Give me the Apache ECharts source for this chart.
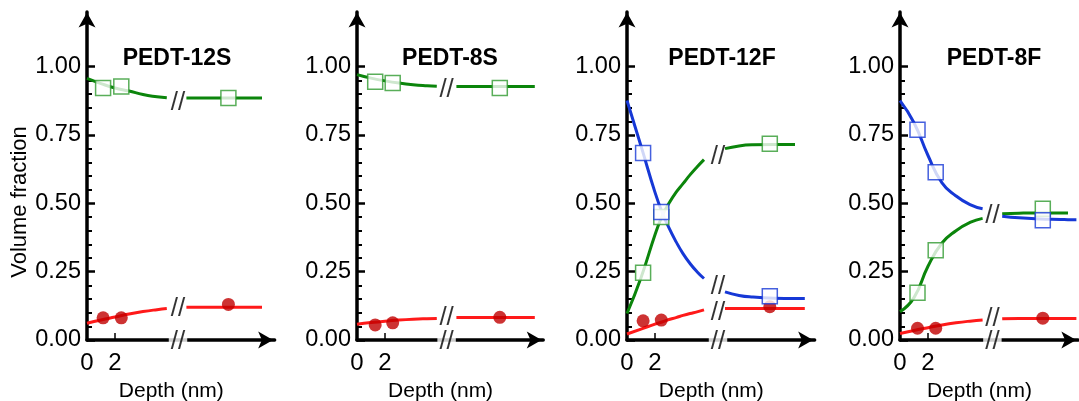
<!DOCTYPE html>
<html>
<head>
<meta charset="utf-8">
<script src="https://cdn.jsdelivr.net/npm/echarts@6.0.0/dist/echarts.min.js"></script>
<style>
  html, body { margin: 0; padding: 0; background: #fff; }
  #chart { width: 1079px; height: 401px; }
</style>
</head>
<body>
<div id="chart"></div>
<script>
// ---- data (depth in nm; the bulk part past the axis break uses the same drawn scale) ----
const titles = ['PEDT-12S', 'PEDT-8S', 'PEDT-12F', 'PEDT-8F'];
const yTicks = [0, 0.25, 0.5, 0.75, 1];
const yMinorTicks = [0.05, 0.1, 0.15, 0.2, 0.3, 0.35, 0.4, 0.45, 0.55, 0.6, 0.65, 0.7, 0.8, 0.85, 0.9, 0.95];
const xTickLabels = [0, 2];
const xMax = [13.4, 13.3, 13.4, 12.7];

// fitted curves, '-' marks the gap at the axis break
const depth12S = [0, 1, 2, 3, 4, 5, 5.7, 6.4, 7.1, 8.5, 10, 11.5, 12.5];
const green12S = [0.957, 0.938, 0.922, 0.911, 0.898, 0.89, 0.886, '-', 0.885, 0.885, 0.885, 0.885, 0.885];
const red12S = [0.061, 0.073, 0.084, 0.095, 0.104, 0.111, 0.115, '-', 0.12, 0.12, 0.12, 0.12, 0.12];

const depth8S = [0, 1, 2, 3, 4, 5, 5.7, 6.4, 7.1, 8.5, 10, 11.5, 12.7];
const green8S = [0.971, 0.958, 0.948, 0.94, 0.934, 0.93, 0.928, '-', 0.927, 0.927, 0.927, 0.927, 0.927];
const red8S = [0.058, 0.064, 0.069, 0.073, 0.076, 0.078, 0.079, '-', 0.082, 0.082, 0.082, 0.082, 0.082];

const depth12F = [0, 1, 2, 2.5, 3, 3.5, 4, 4.5, 5, 5.5, 6.5, 7.0, 8, 9, 10.5, 12.0, 12.7];
const blue12F = [0.876, 0.71, 0.54, 0.468, 0.41, 0.36, 0.316, 0.28, 0.25, 0.225, '-', 0.176, 0.163, 0.157, 0.153, 0.152, 0.152];
const green12F = [0.097, 0.228, 0.385, 0.452, 0.5, 0.54, 0.572, 0.604, 0.633, 0.66, '-', 0.70, 0.71, 0.714, 0.715, 0.715, '-'];
const red12F = [0.022, 0.04, 0.058, 0.066, 0.075, 0.082, 0.09, 0.097, 0.103, 0.11, '-', 0.115, 0.115, 0.115, 0.115, 0.115, 0.115];

const depth8F = [0, 1, 2, 3, 4, 5, 5.9, 6.6, 7.3, 8.5, 10, 11.5, 12.0, 12.6];
const blue8F = [0.876, 0.795, 0.675, 0.575, 0.527, 0.495, 0.48, '-', 0.453, 0.447, 0.443, 0.441, 0.44, 0.44];
const green8F = [0.103, 0.155, 0.27, 0.355, 0.4, 0.43, 0.445, '-', 0.462, 0.464, 0.465, 0.465, 0.465, '-'];
const red8F = [0.024, 0.035, 0.045, 0.055, 0.063, 0.069, 0.073, '-', 0.078, 0.079, 0.079, 0.079, 0.079, 0.079];

// measured points: two near-surface depths and the bulk value
const pointDepths = [[1.15, 2.45, 10.1], [1.3, 2.55, 10.2], [1.15, 2.45, 10.2], [1.25, 2.55, 10.2]];
const greenPoints = [[0.922, 0.927, 0.885], [0.945, 0.94, 0.922], [0.246, 0.45, 0.718], [0.173, 0.328, 0.48]];
const redPoints = [[0.081, 0.081, 0.13], [0.055, 0.063, 0.083], [0.07, 0.073, 0.122], [0.043, 0.043, 0.08]];
const bluePoints = [null, null, [0.684, 0.468, 0.16], [0.769, 0.614, 0.438]];

// "//" break marks
const breakDepths = [6.5, 6.4, 6.5, 6.6];
const breakLevels = [[0.869, 0.113], [0.916, 0.08], [0.669, 0.195, 0.098], [0.453, 0.077]];
const axisBreakLevel = -0.005;

// ---- layout / style ----
const FONT = 'Liberation Sans, Arial, sans-serif';
const GREEN = '#0b850b';
const GREEN_EDGE = '#2f9a2f';
const RED = '#ff1a1a';
const DARKRED = '#c00000';
const BLUE = '#1638d6';
const gridLeft = [87, 357, 627, 900];
const titleCenter = [177, 450, 722, 994];
const PX_PER_NM = 14;
const arrow = 'path://M8,0 L16,14 L8,10.5 L0,14 Z';

const panels = [
  { depth: depth12S, curves: [[green12S, GREEN], [red12S, RED]] },
  { depth: depth8S, curves: [[green8S, GREEN], [red8S, RED]] },
  { depth: depth12F, curves: [[green12F, GREEN], [red12F, RED], [blue12F, BLUE]] },
  { depth: depth8F, curves: [[green8F, GREEN], [red8F, RED], [blue8F, BLUE]] }
];

const zip = (xs, ys) => xs.map((x, k) => [x, ys[k]]);

const grid = [], xAxis = [], yAxis = [], series = [], title = [];

panels.forEach((p, i) => {
  grid.push({
    left: gridLeft[i], top: 12, width: xMax[i] * PX_PER_NM, height: 328,
    outerBoundsMode: 'none', containLabel: false
  });

  title.push({
    text: titles[i], left: titleCenter[i], top: 47, padding: 0, textAlign: 'center',
    textStyle: { fontFamily: FONT, fontSize: 23, fontWeight: 'bold', color: '#000' }
  });

  xAxis.push({
    gridIndex: i, type: 'value', min: 0, max: xMax[i],
    name: 'Depth (nm)', nameLocation: 'middle', nameGap: 41,
    nameTextStyle: { fontFamily: FONT, fontSize: 21, color: '#000', padding: [0, 19, 0, 0] },
    axisLine: {
      lineStyle: { color: '#000', width: 3.5 },
      symbol: ['none', arrow], symbolSize: [17, 19], symbolOffset: [0, -9]
    },
    axisTick: { show: true, inside: true, length: 7, customValues: [2], lineStyle: { color: '#000', width: 1.5 } },
    axisLabel: { customValues: xTickLabels, fontFamily: FONT, fontSize: 24, color: '#000', margin: 11 },
    splitLine: { show: false }
  });

  yAxis.push({
    gridIndex: i, type: 'value', min: 0, max: 1.2, position: 'left',
    name: i === 0 ? 'Volume fraction' : '', nameLocation: 'middle', nameGap: 55,
    nameTextStyle: { fontFamily: FONT, fontSize: 22, color: '#000', padding: [0, 52, 0, 0] },
    axisLine: {
      show: true, lineStyle: { color: '#000', width: 3.5 },
      symbol: ['none', arrow], symbolSize: [17, 18], symbolOffset: [0, -8]
    },
    axisTick: { show: true, inside: true, length: 8, customValues: yTicks, lineStyle: { color: '#000', width: 2.5 } },
    axisLabel: { customValues: yTicks, formatter: v => v.toFixed(2), fontFamily: FONT, fontSize: 23.5, color: '#000', margin: 6 },
    splitLine: { show: false }
  });
  // minor ticks
  yAxis.push({
    gridIndex: i, type: 'value', min: 0, max: 1.2, position: 'left', offset: 0,
    axisLine: { show: false },
    axisTick: { show: true, inside: true, length: 5, customValues: yMinorTicks, lineStyle: { color: '#000', width: 2 } },
    axisLabel: { show: false },
    splitLine: { show: false }
  });

  const axes = { xAxisIndex: i, yAxisIndex: 2 * i };

  p.curves.forEach(([vals, color]) => {
    series.push({
      type: 'line', ...axes, data: zip(p.depth, vals), smooth: 0.5, symbol: 'none',
      lineStyle: { color: color, width: 3 }, silent: true, z: 2
    });
  });

  series.push({
    type: 'scatter', ...axes, data: zip(pointDepths[i], redPoints[i]),
    symbol: 'circle', symbolSize: 13, itemStyle: { color: DARKRED }, z: 3
  });
  series.push({
    type: 'scatter', ...axes, data: zip(pointDepths[i], greenPoints[i]),
    symbol: 'rect', symbolSize: 15, itemStyle: { color: '#fff', borderColor: GREEN_EDGE, borderWidth: 1.5 }, z: 3
  });
  if (bluePoints[i]) {
    series.push({
      type: 'scatter', ...axes, data: zip(pointDepths[i], bluePoints[i]),
      symbol: 'rect', symbolSize: 15, itemStyle: { color: '#fff', borderColor: BLUE, borderWidth: 1.5 }, z: 3
    });
  }

  const slash = {
    show: true, position: 'inside', formatter: '//', fontFamily: FONT, fontSize: 26, color: '#000'
  };
  series.push({
    type: 'scatter', ...axes, clip: false, silent: true, z: 4,
    data: breakLevels[i].map(v => [breakDepths[i], v]),
    symbolSize: 1, itemStyle: { color: 'transparent' }, label: slash
  });
  series.push({
    type: 'scatter', ...axes, clip: false, silent: true, z: 4,
    data: [[breakDepths[i], axisBreakLevel]],
    symbolSize: 1, itemStyle: { color: 'transparent' },
    label: { ...slash, backgroundColor: '#fff', padding: [0, 2] }
  });
});

const chart = echarts.init(document.getElementById('chart'));
chart.setOption({
  animation: false,
  backgroundColor: '#fff',
  title, grid, xAxis, yAxis, series
});
</script>
</body>
</html>
